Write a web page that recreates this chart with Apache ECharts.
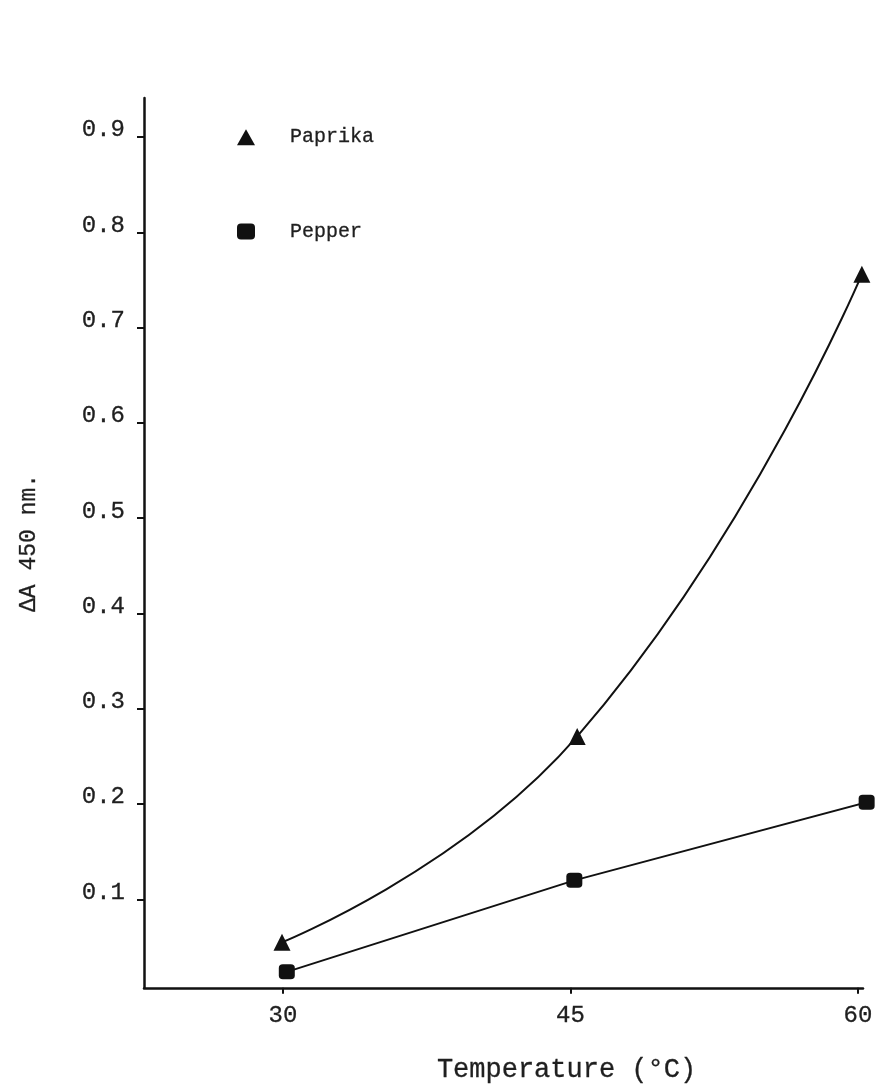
<!DOCTYPE html>
<html>
<head>
<meta charset="utf-8">
<script src="https://cdn.jsdelivr.net/npm/echarts@6/dist/echarts.min.js"></script>
<style>
  html, body { margin: 0; padding: 0; background: #fff; }
  #chart { width: 881px; height: 1088px; }
</style>
</head>
<body>
<div id="chart"></div>
<script>
// ---- data ----
const seriesNames = ['Paprika', 'Pepper'];
const paprikaTemp = [29.95, 45.35, 60.2];
const paprikaDeltaA = [0.055, 0.271, 0.756];
const pepperTemp = [30.2, 45.2, 60.45];
const pepperDeltaA = [0.024, 0.12, 0.202];
const xTicks = [30, 45, 60];
const yTicks = [0.1, 0.2, 0.3, 0.4, 0.5, 0.6, 0.7, 0.8, 0.9];
const xTitle = 'Temperature (°C)';
const yTitle = 'ΔA 450 nm.';

const FONT = '"Liberation Mono", "DejaVu Sans Mono", monospace';
const INK = '#1f1f1f';
const heavy = { textBorderColor: INK, textBorderWidth: 0.3 };

function pairs(xs, ys) { return xs.map((x, i) => [x, ys[i]]); }

const chart = echarts.init(document.getElementById('chart'));
chart.setOption({
  backgroundColor: '#ffffff',
  animation: false,
  grid: { left: 144, right: 18, top: 98, bottom: 97, containLabel: false },
  legend: {
    orient: 'vertical',
    left: 232,
    top: 122,
    itemWidth: 18,
    itemHeight: 16,
    itemGap: 74,
    textStyle: Object.assign({ fontFamily: FONT, fontSize: 20, color: INK, padding: [0, 0, 0, 30] }, heavy),
    data: [
      { name: seriesNames[0], icon: 'triangle', itemStyle: { color: '#111' } },
      { name: seriesNames[1], icon: 'roundRect', itemStyle: { color: '#111' } }
    ]
  },
  xAxis: {
    type: 'value',
    min: 22.75,
    max: 60.26,
    name: xTitle,
    nameLocation: 'middle',
    nameGap: 68,
    nameTextStyle: Object.assign({ fontFamily: FONT, fontSize: 27, color: INK, padding: [0, 0, 0, 126] }, heavy),
    splitLine: { show: false },
    axisLine: { show: true, lineStyle: { color: '#111', width: 2.5 } },
    axisTick: { show: true, customValues: xTicks, length: 6, lineStyle: { color: '#111', width: 2 } },
    axisLabel: Object.assign({
      customValues: xTicks,
      margin: 16,
      fontFamily: FONT, fontSize: 24, color: INK,
      formatter: v => String(v)
    }, heavy)
  },
  yAxis: {
    type: 'value',
    min: 0.0072,
    max: 0.941,
    name: yTitle,
    nameLocation: 'middle',
    nameRotate: 90,
    nameGap: 104,
    nameTextStyle: Object.assign({ fontFamily: FONT, fontSize: 23, color: INK }, heavy),
    splitLine: { show: false },
    axisLine: { show: true, lineStyle: { color: '#111', width: 2.5 } },
    axisTick: { show: true, customValues: yTicks, length: 7, lineStyle: { color: '#111', width: 2 } },
    axisLabel: Object.assign({
      customValues: yTicks,
      margin: 19,
      fontFamily: FONT, fontSize: 24, color: INK,
      verticalAlign: 'bottom',
      lineHeight: 14,
      formatter: v => v.toFixed(1)
    }, heavy)
  },
  series: [
    {
      name: seriesNames[0],
      type: 'line',
      smooth: 0.5,
      clip: false,
      symbol: 'triangle',
      symbolSize: 17,
      lineStyle: { color: '#111', width: 2 },
      itemStyle: { color: '#111' },
      data: pairs(paprikaTemp, paprikaDeltaA)
    },
    {
      name: seriesNames[1],
      type: 'line',
      smooth: false,
      clip: false,
      symbol: 'roundRect',
      symbolSize: [16, 15],
      lineStyle: { color: '#111', width: 2 },
      itemStyle: { color: '#111' },
      data: pairs(pepperTemp, pepperDeltaA)
    }
  ]
});
</script>
</body>
</html>
